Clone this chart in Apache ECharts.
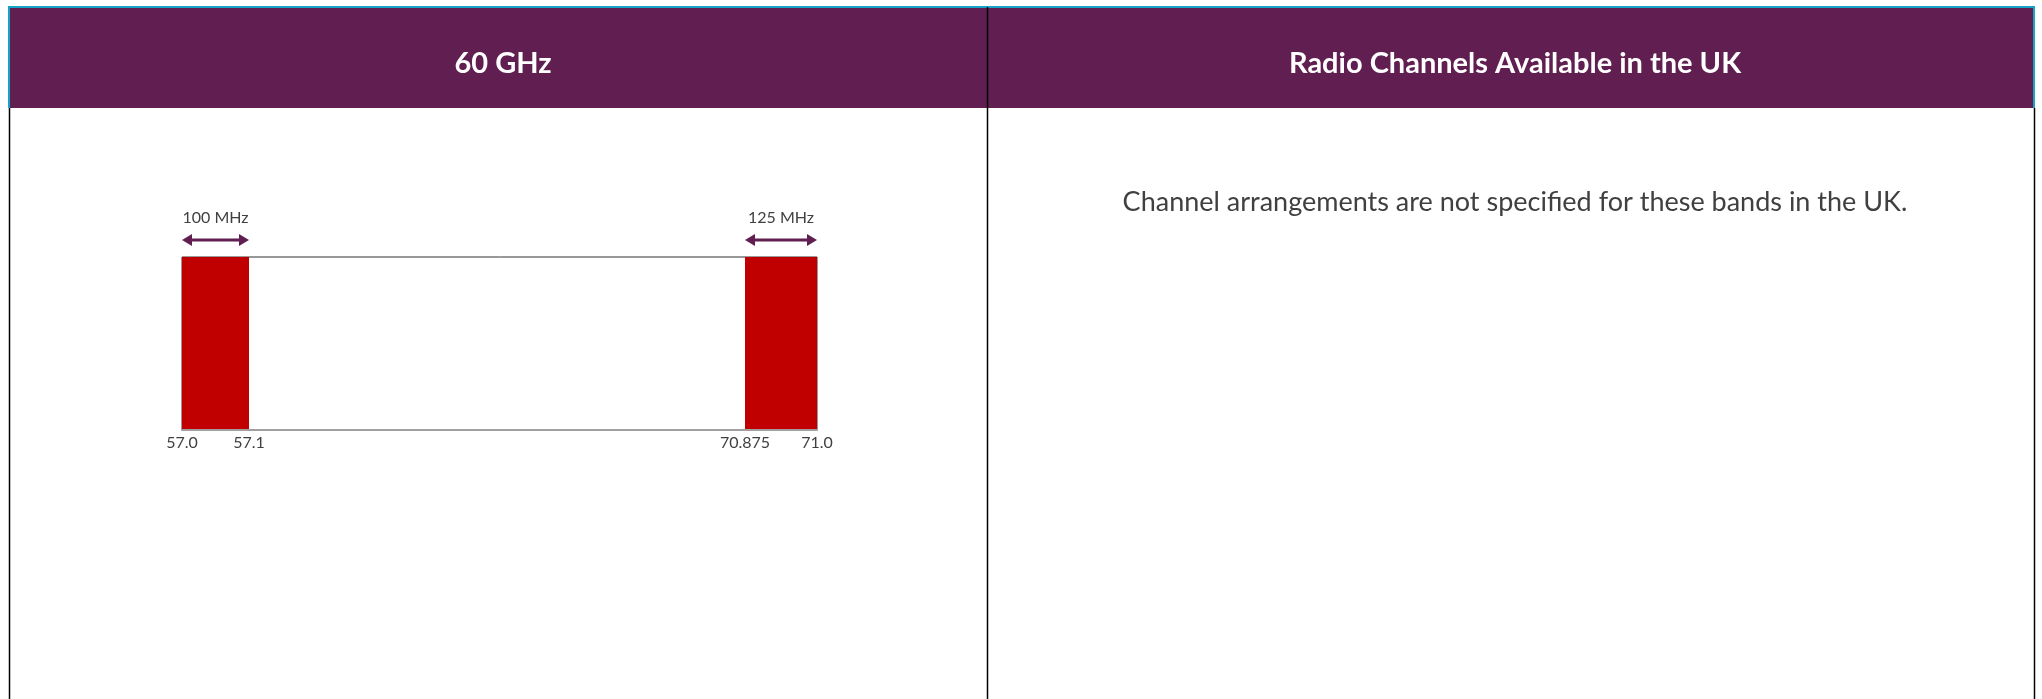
<!DOCTYPE html>
<html><head><meta charset="utf-8">
<script src="https://cdn.jsdelivr.net/npm/echarts@6/dist/echarts.min.js"></script>
<style>html,body{margin:0;padding:0;background:#fff}#c{width:2042px;height:699px}</style>
</head><body><div id="c"></div>
<script>
const panelTitles = ['60 GHz', 'Radio Channels Available in the UK'];
const noteText = 'Channel arrangements are not specified for these bands in the UK.';
const bandStarts = [57.0, 70.875];
const bandEnds = [57.1, 71.0];
const bandWidthLabels = ['100 MHz', '125 MHz'];
const tickValues = [[57.0, 57.1], [70.875, 71.0]];
const tickLabels = [['57.0', '57.1'], ['70.875', '71.0']];

const PURPLE = '#601E51', RED = '#C00000', CYAN = '#14A3C7', TXT = '#404040';
const FONT = 'Lato, "Open Sans", sans-serif';
const boxTop = 257, boxH = 173;
const bandLayouts = [{left: 182, width: 67}, {left: 745, width: 72}];

const chart = echarts.init(document.getElementById('c'));

function bandSeries(i) {
  return {
    type: 'custom', xAxisIndex: i + 1, yAxisIndex: i + 1, clip: false,
    data: [[bandStarts[i], bandEnds[i]]],
    renderItem: function (params, api) {
      const pTop0 = api.coord([api.value(0), 1]);
      const pTop1 = api.coord([api.value(1), 1]);
      const pBot = api.coord([api.value(0), 0]);
      const x0 = pTop0[0], x1 = pTop1[0], top = pTop0[1], bot = pBot[1];
      const ay = top - 17;
      return {type: 'group', children: [
        {type: 'rect', shape: {x: x0, y: top, width: x1 - x0, height: bot - top}, style: {fill: RED}},
        {type: 'line', shape: {x1: x0 + 6, y1: ay, x2: x1 - 6, y2: ay}, style: {stroke: PURPLE, lineWidth: 3}},
        {type: 'polygon', shape: {points: [[x0, ay], [x0 + 10, ay - 6], [x0 + 10, ay + 6]]}, style: {fill: PURPLE}},
        {type: 'polygon', shape: {points: [[x1, ay], [x1 - 10, ay - 6], [x1 - 10, ay + 6]]}, style: {fill: PURPLE}},
        {type: 'text', x: (x0 + x1) / 2, y: ay - 14, style: {text: bandWidthLabels[i], align: 'center', verticalAlign: 'bottom', fill: TXT, fontSize: 16, fontFamily: FONT}}
      ]};
    }
  };
}

function bandXAxis(i) {
  return {
    type: 'value', gridIndex: i + 1, min: bandStarts[i], max: bandEnds[i],
    axisLine: {show: false}, axisTick: {show: false}, splitLine: {show: false},
    axisLabel: {
      customValues: tickValues[i], showMinLabel: true, showMaxLabel: true, hideOverlap: false,
      margin: 5, color: TXT, fontSize: 16, fontFamily: FONT,
      formatter: function (v) { const k = tickValues[i].indexOf(v); return k >= 0 ? tickLabels[i][k] : ''; }
    }
  };
}

const option = {
  animation: false,
  backgroundColor: '#fff',
  title: [
    {text: panelTitles[0], left: 498, top: 59, textAlign: 'center', textVerticalAlign: 'middle',
     textStyle: {color: '#fff', fontSize: 29, fontWeight: 'bold', fontFamily: FONT}},
    {text: panelTitles[1], left: 1510, top: 59, textAlign: 'center', textVerticalAlign: 'middle',
     textStyle: {color: '#fff', fontSize: 29, fontWeight: 'bold', fontFamily: FONT}},
    {text: noteText, left: 1510, top: 197, textAlign: 'center', textVerticalAlign: 'middle',
     textStyle: {color: TXT, fontSize: 27, fontWeight: 'normal', fontFamily: FONT}}
  ],
  graphic: [
    {type: 'rect', z: -10, shape: {x: 9, y: 7, width: 2025, height: 101}, style: {fill: PURPLE}},
    {type: 'line', z: -5, shape: {x1: 8, y1: 7, x2: 2035, y2: 7}, style: {stroke: CYAN, lineWidth: 2}},
    {type: 'line', z: -5, shape: {x1: 9, y1: 7, x2: 9, y2: 108}, style: {stroke: CYAN, lineWidth: 2}},
    {type: 'line', z: -5, shape: {x1: 2034, y1: 7, x2: 2034, y2: 108}, style: {stroke: CYAN, lineWidth: 2}},
    {type: 'line', z: -5, shape: {x1: 9.5, y1: 108, x2: 9.5, y2: 699}, style: {stroke: '#000', lineWidth: 1.5}},
    {type: 'line', z: -5, shape: {x1: 987.5, y1: 7, x2: 987.5, y2: 699}, style: {stroke: '#000', lineWidth: 1.5}},
    {type: 'line', z: -5, shape: {x1: 2034.5, y1: 108, x2: 2034.5, y2: 699}, style: {stroke: '#000', lineWidth: 1.5}}
  ],
  grid: [
    {left: 182, top: boxTop, width: 635, height: boxH, show: true, borderColor: '#333', borderWidth: 1, backgroundColor: 'transparent'},
    {left: bandLayouts[0].left, top: boxTop, width: bandLayouts[0].width, height: boxH},
    {left: bandLayouts[1].left, top: boxTop, width: bandLayouts[1].width, height: boxH}
  ],
  xAxis: [
    {type: 'value', gridIndex: 0, min: bandStarts[0], max: bandEnds[1], z: 10,
     axisLine: {show: true, lineStyle: {color: '#a0a0a0', width: 2}},
     axisTick: {show: false}, axisLabel: {show: false}, splitLine: {show: false}},
    bandXAxis(0), bandXAxis(1)
  ],
  yAxis: [
    {type: 'value', gridIndex: 0, min: 0, max: 1, show: false},
    {type: 'value', gridIndex: 1, min: 0, max: 1, show: false},
    {type: 'value', gridIndex: 2, min: 0, max: 1, show: false}
  ],
  series: [bandSeries(0), bandSeries(1)]
};
chart.setOption(option);
</script>
</body></html>
